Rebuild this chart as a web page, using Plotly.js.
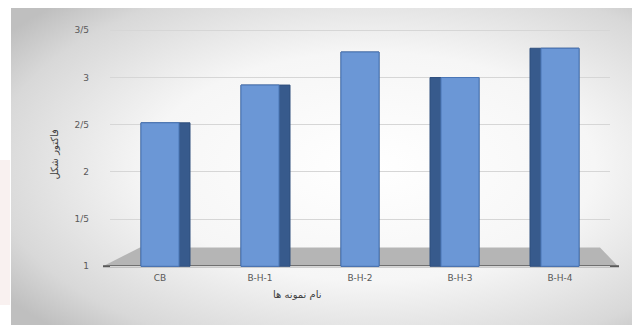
<!DOCTYPE html>
<html><head><meta charset="utf-8">
<script src="https://cdn.plot.ly/plotly-3.0.1.min.js"></script>
<style>html,body{margin:0;padding:0;background:#fff;}#chart{width:632px;height:329px;}</style>
</head><body><div id="chart"></div>
<script>
// ---- data ----
const categories = ['CB', 'B-H-1', 'B-H-2', 'B-H-3', 'B-H-4'];
const values = [2.52, 2.92, 3.27, 3.0, 3.31];
const yTickVals = [1, 1.5, 2, 2.5, 3, 3.5];
const yTickText = ['1', '1/5', '2', '2/5', '3', '3/5'];
const xTitle = 'نام نمونه ها';
const yTitle = 'فاکتور شکل';

// ---- style ----
const frontW = 0.38, sideW = 0.11;
// side face: right of front for left bars, left of front for right bars, none for centre
const sideDir = [1, 1, 0, -1, -1];
const sideOffset = sideDir.map(d => d >= 0 ? -frontW / 2 : -frontW / 2 - sideW);
const sideWidth = sideDir.map(d => d === 0 ? frontW : frontW + sideW);

const side = {
  type: 'bar', x: categories, y: values.map(v => v - 1), base: 1,
  width: sideWidth, offset: sideOffset,
  marker: {color: '#375a8c', line: {color: '#2f4f7d', width: 1}},
  hoverinfo: 'skip', showlegend: false
};
const front = {
  type: 'bar', x: categories, y: values.map(v => v - 1), base: 1,
  width: frontW, offset: -frontW / 2,
  marker: {color: '#6b97d6', line: {color: '#4b76b6', width: 1}},
  showlegend: false
};

const L = 110, R = 22, T = 19, B = 58, W = 632, H = 329;
const pw = W - L - R, ph = H - T - B;
const px = x => (x - L) / pw;          // pixel -> paper x
const py = y => (H - B - y) / ph;       // pixel -> paper y

const svg = `<svg xmlns="http://www.w3.org/2000/svg" width="621" height="317" preserveAspectRatio="none"><defs><radialGradient id="g" cx="0.58" cy="0.5" r="0.72"><stop offset="0" stop-color="#ffffff"/><stop offset="0.5" stop-color="#f6f6f6"/><stop offset="0.85" stop-color="#d8d8d8"/><stop offset="1" stop-color="#bfbfbf"/></radialGradient></defs><rect width="621" height="317" fill="url(#g)"/></svg>`;
const bg = 'data:image/svg+xml;utf8,' + encodeURIComponent(svg);

const layout = {
  width: W, height: H,
  margin: {l: L, r: R, t: T, b: B},
  paper_bgcolor: '#ffffff',
  plot_bgcolor: 'rgba(0,0,0,0)',
  barmode: 'overlay',
  font: {family: 'DejaVu Sans, Arial, sans-serif', size: 9, color: '#595959'},
  xaxis: {
    type: 'category', range: [-0.5, 4.5], showgrid: false, zeroline: false,
    showline: false, ticks: '', tickfont: {size: 9, color: '#595959'}
  },
  yaxis: {
    range: [0.95, 3.62], tickvals: yTickVals, ticktext: yTickText,
    showgrid: true, gridcolor: '#d6d6d6', gridwidth: 1, zeroline: false,
    showline: false, ticks: '', ticklabelstandoff: 20,
    tickfont: {size: 9, color: '#595959'}
  },
  images: [{
    source: bg, xref: 'paper', yref: 'paper',
    x: px(11), y: py(8), sizex: 621 / pw, sizey: 317 / ph,
    xanchor: 'left', yanchor: 'top', sizing: 'stretch', layer: 'below'
  }],
  shapes: [
    {type: 'rect', xref: 'paper', yref: 'paper', x0: px(0), x1: px(10), y0: py(305), y1: py(160),
     fillcolor: 'rgba(236,210,205,0.3)', line: {width: 0}, layer: 'below'},
    {type: 'path', xref: 'paper', yref: 'y', layer: 'below',
     path: `M ${px(103)} 1 L ${px(140)} 1.2 L ${px(600)} 1.2 L ${px(618)} 1 Z`,
     fillcolor: '#b5b5b5', line: {width: 0}},
    {type: 'line', xref: 'paper', yref: 'y', layer: 'below',
     x0: px(103), x1: px(619), y0: 1, y1: 1, line: {color: '#5a5a5a', width: 2}}
  ],
  annotations: [
    {text: xTitle, xref: 'paper', yref: 'paper', x: px(297), y: py(302), showarrow: false,
     font: {size: 10, color: '#404040'}},
    {text: yTitle, xref: 'paper', yref: 'paper', x: px(46), y: py(155), showarrow: false,
     textangle: -90, font: {size: 10, color: '#404040'}}
  ]
};

Plotly.newPlot('chart', [side, front], layout, {displayModeBar: false, staticPlot: true});
</script></body></html>
